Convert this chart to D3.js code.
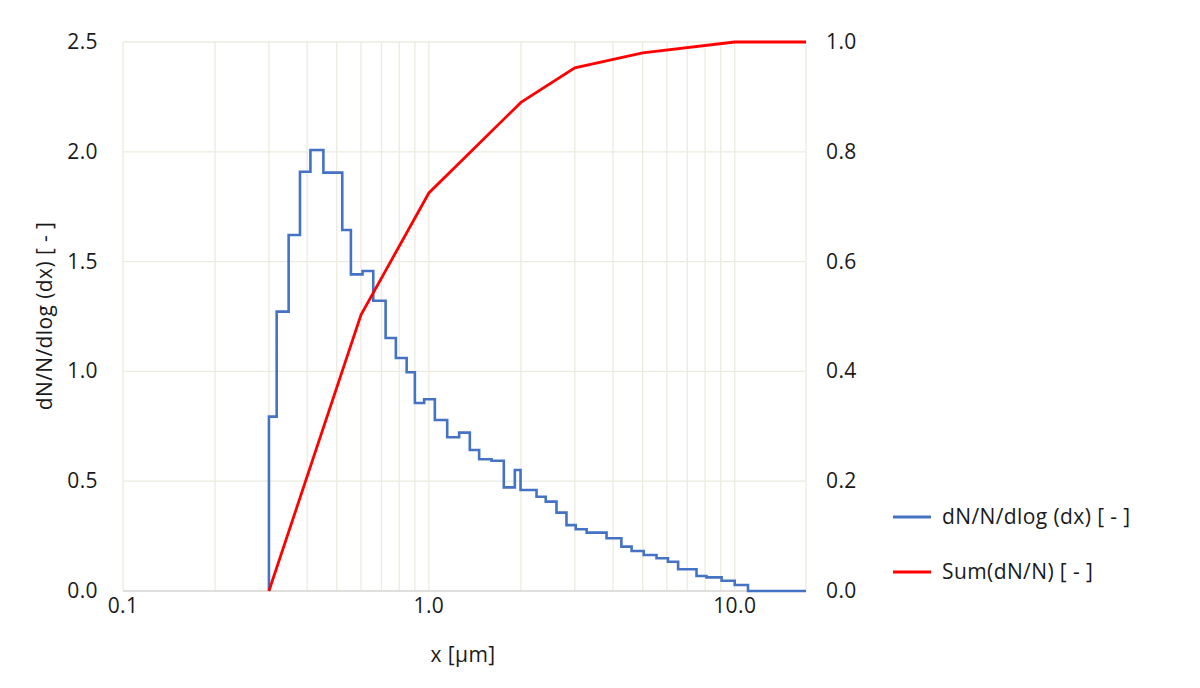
<!DOCTYPE html>
<html><head><meta charset="utf-8">
<script src="https://cdn.jsdelivr.net/npm/d3@7"></script>
<style>body{margin:0;background:#fff}text{font-family:"Open Sans",sans-serif;fill:#1a1a1a;letter-spacing:0.4px}</style>
</head><body><svg id="c" width="1200" height="688"></svg>
<script>
const edges=[0.3,0.318,0.348,0.379,0.41,0.452,0.521,0.556,0.607,0.658,0.722,0.78,0.846,0.9,0.965,1.046,1.148,1.256,1.361,1.46,1.603,1.758,1.91,1.994,2.249,2.41,2.614,2.818,3.02,3.28,3.81,4.26,4.6,5.04,5.55,6.05,6.53,7.5,8.08,9.06,10.0,11.05];
const density=[0.794,1.272,1.621,1.909,2.008,1.905,1.644,1.442,1.457,1.322,1.152,1.061,0.996,0.856,0.873,0.779,0.70,0.721,0.642,0.600,0.593,0.472,0.551,0.46,0.429,0.407,0.357,0.30,0.281,0.266,0.24,0.202,0.182,0.164,0.149,0.133,0.099,0.068,0.062,0.047,0.027,0];
const xEnd=17.1;
const cumX=[0.3,0.6,1.0,2.0,3.0,5.0,10.0,17.1];
const cumY=[0,0.503,0.725,0.89,0.953,0.98,1.0,1.0];
const yTicksL=[0,0.5,1,1.5,2,2.5];
const yTicksR=[0,0.2,0.4,0.6,0.8,1.0];
const xTicks=[0.1,1,10];

const svg=d3.select("#c");
const L=123,R=806,T=42,B=591;
const x=d3.scaleLog().domain([0.1,xEnd]).range([L,R]);
const y=d3.scaleLinear().domain([0,2.5]).range([B,T]);
const y2=d3.scaleLinear().domain([0,1]).range([B,T]);
const grid="#ecebdf";
const minors=[];
[0.1,1,10].forEach(d=>{for(let k=1;k<10;k++){const v=d*k;if(v<=xEnd)minors.push(v);}});
svg.append("g").selectAll("line").data(minors).join("line")
 .attr("x1",d=>x(d)).attr("x2",d=>x(d)).attr("y1",T).attr("y2",B).attr("stroke",grid).attr("stroke-width",1.3);
svg.append("line").attr("x1",R).attr("x2",R).attr("y1",T).attr("y2",B).attr("stroke",grid).attr("stroke-width",1.3);
svg.append("g").selectAll("line").data(yTicksL).join("line")
 .attr("x1",L).attr("x2",R).attr("y1",d=>y(d)).attr("y2",d=>y(d)).attr("stroke",grid).attr("stroke-width",1.3);
svg.append("line").attr("x1",L).attr("x2",R).attr("y1",B).attr("y2",B).attr("stroke","#d9d9d9").attr("stroke-width",1.3);

const fs="21px";
svg.append("g").selectAll("text").data(yTicksL).join("text").attr("x",98).attr("y",d=>y(d)+7).attr("text-anchor","end").style("font-size",fs).text(d=>d.toFixed(1));
svg.append("g").selectAll("text").data(yTicksR).join("text").attr("x",826).attr("y",d=>y2(d)+7).style("font-size",fs).text(d=>d.toFixed(1));
svg.append("g").selectAll("text").data(xTicks).join("text").attr("x",d=>x(d)).attr("y",613).attr("text-anchor","middle").style("font-size",fs).text(d=>d.toFixed(1));
svg.append("text").attr("x",463).attr("y",662).attr("text-anchor","middle").style("font-size",fs).text("x [µm]");
svg.append("text").attr("transform","translate(52,316) rotate(-90)").attr("text-anchor","middle").style("font-size",fs).text("dN/N/dlog (dx) [ - ]");

const pts=[[edges[0],0]].concat(edges.map((e,i)=>[e,density[i]])).concat([[xEnd,0]]);
svg.append("path").attr("d",d3.line().x(d=>x(d[0])).y(d=>y(d[1])).curve(d3.curveStepAfter)(pts))
 .attr("fill","none").attr("stroke","#4472c4").attr("stroke-width",2.6);
svg.append("path").attr("d",d3.line().x((d,i)=>x(d)).y((d,i)=>y2(cumY[i]))(cumX))
 .attr("fill","none").attr("stroke","#ff0000").attr("stroke-width",2.8);

const leg=[["dN/N/dlog (dx) [ - ]","#4472c4",517],["Sum(dN/N) [ - ]","#ff0000",572]];
leg.forEach(([t,c,yy])=>{
 svg.append("line").attr("x1",893).attr("x2",931).attr("y1",yy).attr("y2",yy).attr("stroke",c).attr("stroke-width",2.8);
 svg.append("text").attr("x",942).attr("y",yy+7).style("font-size",fs).text(t);
});
</script></body></html>
